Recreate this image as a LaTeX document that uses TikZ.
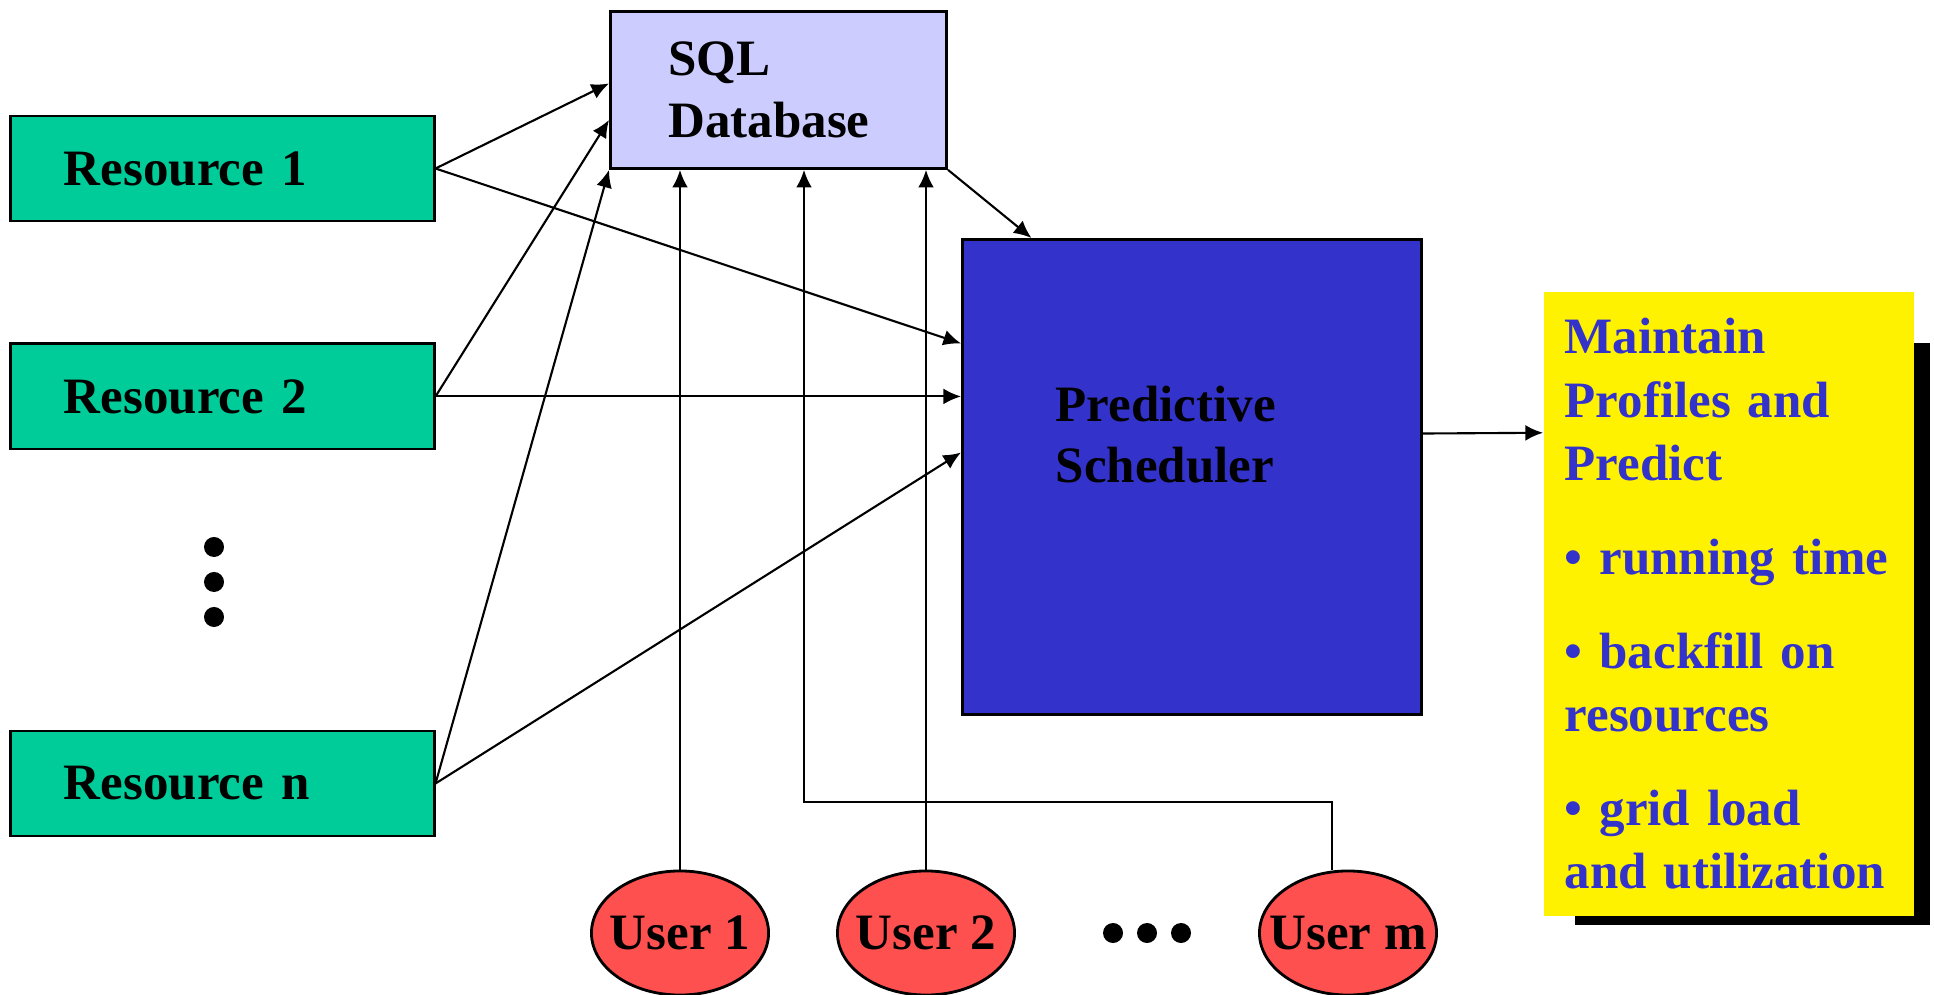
\documentclass[tikz,border=0pt]{standalone}
\usepackage{fontspec}
\setmainfont{Liberation Serif}
\usetikzlibrary{positioning, arrows.meta, shapes.geometric}
\definecolor{resgreen}{RGB}{0,204,153}
\definecolor{dblilac}{RGB}{204,204,255}
\definecolor{schedblue}{RGB}{51,51,204}
\definecolor{userred}{RGB}{255,80,80}
\newcommand{\ulabel}[1]{\makebox[0pt]{#1}}

\begin{document}
\begin{tikzpicture}[x=0.01cm, y=-0.01cm, font=\fontsize{14.5}{17.5}\selectfont\bfseries,
    box/.style={draw, line width=0.8pt, align=left, inner ysep=0pt},
    res/.style={box, fill=resgreen, text width=3.17cm, inner xsep=0.53cm, minimum height=1.05cm},
    user/.style={draw, ellipse, fill=userred, line width=0.8pt, minimum width=1.77cm, minimum height=1.24cm, inner sep=0pt},
    arw/.style={-{Latex[length=5pt, width=4.5pt]}, line width=0.6pt}]
  \useasboundingbox (0,0) rectangle (1934,995);

  % resources
  \node[res] (r1) at (222.5,168.5) {Resource 1};
  \node[res, below=1.2cm of r1] (r2) {Resource 2};
  \node[res, below=2.79cm of r2] (rn) {Resource n};
  \foreach \y in {547,582,617}
    \fill (214,\y) circle (0.1cm);

  % database and scheduler
  \node[box, fill=dblilac, text width=2.2cm, inner xsep=0.58cm, minimum height=1.57cm, anchor=north west]
    (db) at (609,10) {SQL\\Database};
  \node[box, fill=schedblue, minimum width=4.59cm, minimum height=4.75cm, anchor=north west]
    (sched) at (961,238) {};
  \node[align=left, anchor=north west, inner sep=0pt] (schedtxt) at (1055,385) {Predictive\\Scheduler};

  % prediction output
  \fill (1575,343) rectangle (1930,925);
  \node[fill=yellow, text=schedblue, text width=3.28cm, inner xsep=0.21cm, minimum height=6.24cm,
    anchor=north west, align=left, font=\fontsize{14.5}{18.1}\selectfont\bfseries]
    (pred) at (1543,291) {Maintain\\Profiles and\\Predict\\[8.5pt]• running time\\[8.5pt]• backfill on\\resources\\[8.5pt]• grid load\\and utilization};

  % users
  \node[user] (u1) at (680,933) {\ulabel{User 1}};
  \node[user] (u2) at (926,933) {\ulabel{User 2}};
  \node[user] (um) at (1348,933) {\ulabel{User m}};
  \foreach \x in {1113,1147,1181}
    \fill (\x,933) circle (0.1cm);

  % connectors
  \draw[arw] (r1.east) -- ([yshift=0.065cm]db.west);
  \draw[arw] (r2.east) -- ([yshift=-0.3cm]db.west);
  \draw[arw] (rn.east) -- (db.south west);
  \draw[arw] (r1.east) -- ([yshift=1.335cm]sched.west);
  \draw[arw] (r2.east) -- (r2.east -| sched.west);
  \draw[arw] (rn.east) -- ([yshift=0.245cm]sched.west);
  \draw[arw] (db.south east) -- ([xshift=-1.605cm]sched.north);
  \draw[arw] (u1.north) -- (u1.north |- db.south);
  \draw[arw] (u2.north) -- (u2.north |- db.south);
  \coordinate (bend) at (804,802);
  \draw[arw] ([xshift=-0.16cm]um.north) |- (bend) -- (bend |- db.south);
  \draw[arw] ([yshift=0.435cm]sched.east) -- ([yshift=1.71cm]pred.west);
\end{tikzpicture}
\end{document}
